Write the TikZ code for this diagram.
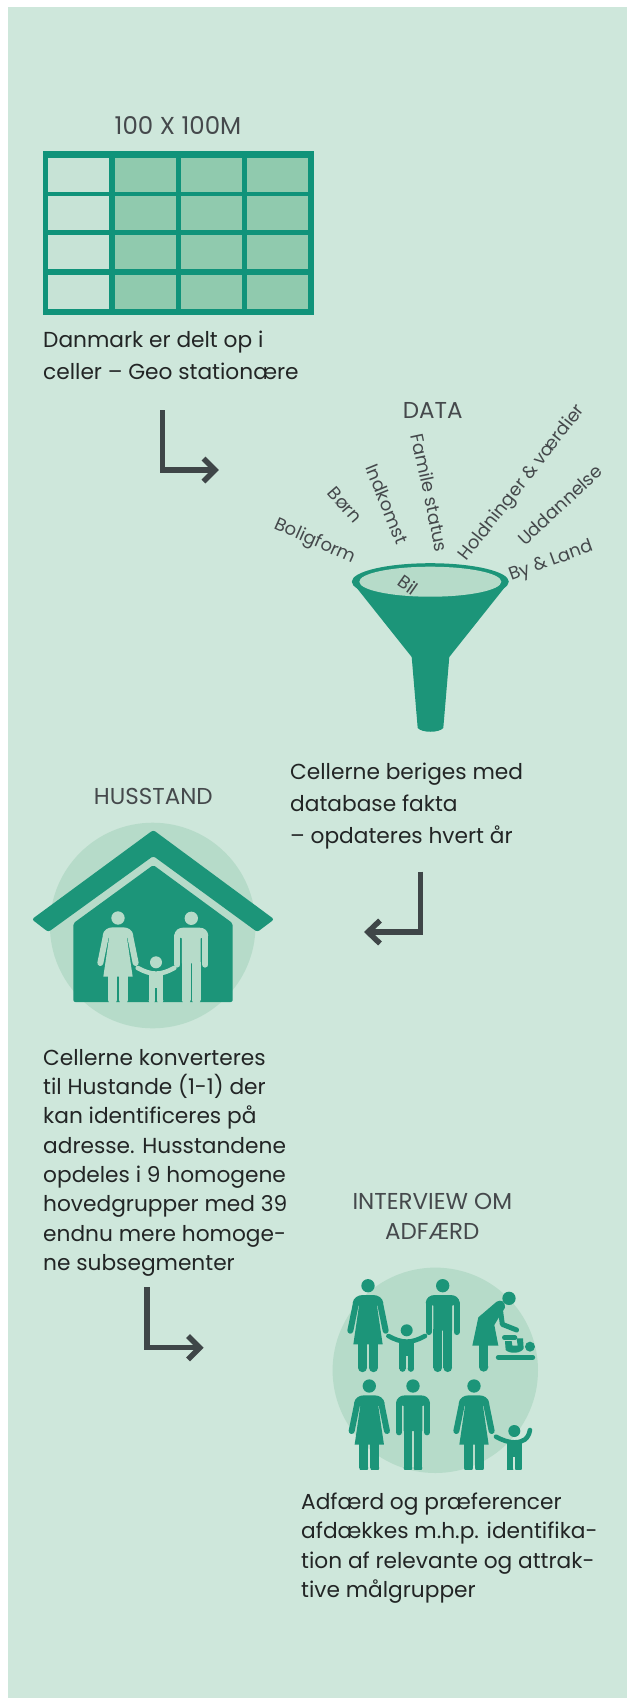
\documentclass[tikz,border=0pt]{standalone}
\usepackage{fontspec}
\setmainfont{Poppins}
\definecolor{bgc}{HTML}{CEE7DB}
\definecolor{gridc}{HTML}{10937A}
\definecolor{celld}{HTML}{90CAAE}
\definecolor{celll}{HTML}{C7E3D6}
\definecolor{fun}{HTML}{1C9579}
\definecolor{disc}{HTML}{B6DBC9}
\definecolor{titlec}{HTML}{45494C}
\definecolor{bodyc}{HTML}{222525}
\definecolor{arrowc}{HTML}{3F4648}
\tikzset{
 ptitle/.style={text=titlec,font=\fontsize{23}{30}\selectfont,align=center,inner sep=0pt},
 pbody/.style={text=bodyc,align=left,inner sep=0pt,anchor=north west},
 plabel/.style={text=titlec,font=\fontsize{18}{20}\selectfont,inner sep=0pt},
 parrow/.style={draw=arrowc,line width=5.5pt},
}
\newcommand{\fwoman}[3]{%x,y,colour
 \begin{scope}[shift={(#1,#2)},x=0.3333pt,y=-0.3333pt]
  \fill[#3] (0,0) circle (20);
  \fill[#3] (-44,176) -- (-27,60) -- (-46,52) .. controls (-44,36) and (-30,28) .. (-16,28) -- (16,28) .. controls (30,28) and (44,36) .. (46,52) -- (27,60) -- (44,176) -- cycle;
  \draw[#3,line width=6pt,line cap=round] (-36,52) -- (-53,135);
  \draw[#3,line width=6pt,line cap=round] (36,52) -- (53,135);
  \fill[#3] (-30,170) rectangle (-3,246); \fill[#3] (3,170) rectangle (30,246);
  \fill[#3] (-16.5,246) circle (13.5); \fill[#3] (16.5,246) circle (13.5);
 \end{scope}}
\newcommand{\fman}[3]{%
 \begin{scope}[shift={(#1,#2)},x=0.3333pt,y=-0.3333pt]
  \fill[#3] (0,0) circle (20);
  \fill[#3] (-28,135) -- (-28,60) -- (-51,52) .. controls (-50,36) and (-38,28) .. (-24,28) -- (24,28) .. controls (38,28) and (50,36) .. (51,52) -- (28,60) -- (28,135) -- cycle;
  \draw[#3,line width=6pt,line cap=round] (-42,52) -- (-42,139);
  \draw[#3,line width=6pt,line cap=round] (42,52) -- (42,139);
  \fill[#3] (-28,130) rectangle (-2,246); \fill[#3] (2,130) rectangle (28,246);
  \fill[#3] (-15,246) circle (13); \fill[#3] (15,246) circle (13);
 \end{scope}}
\newcommand{\fchildbody}[1]{%
  \fill[#1] (0,0) circle (18);
  \fill[#1] (-22,28) rectangle (22,78);
  \fill[#1] (-22,76) rectangle (-3,115); \fill[#1] (3,76) rectangle (22,115);
  \fill[#1] (-12.5,115) circle (9.5); \fill[#1] (12.5,115) circle (9.5);}
\newcommand{\fchild}[3]{%
 \begin{scope}[shift={(#1,#2)},x=0.3333pt,y=-0.3333pt]
  \fchildbody{#3}
  \draw[#3,line width=4.6pt,line cap=round] (-55,17) .. controls (-35,28) and (-18,34) .. (0,34) .. controls (18,34) and (35,28) .. (55,17);
 \end{scope}}
\newcommand{\fchildup}[3]{%
 \begin{scope}[shift={(#1,#2)},x=0.3333pt,y=-0.3333pt]
  \fchildbody{#3}
  \draw[#3,line width=4.6pt,line cap=round] (-55,17) .. controls (-35,28) and (-18,34) .. (0,34) .. controls (25,34) and (42,25) .. (47,-3);
 \end{scope}}
\begin{document}
\begin{tikzpicture}[x=1pt,y=-1pt]
\useasboundingbox (0,0) rectangle (627,1698);
\fill[white] (0,0) rectangle (627,1698);
\fill[bgc] (8,7) rectangle (627,1698);
% grid
\fill[gridc] (43,151) rectangle (314,315);
\foreach \yy/\yb in {158/192,196/230,235/269,275/309}{
  \fill[celll] (48,\yy) rectangle (109,\yb);
  \foreach \xx/\xb in {115/176,181/242,247/308}{\fill[celld] (\xx,\yy) rectangle (\xb,\yb);}
}
\node[ptitle,font=\fontsize{24.5}{30}\selectfont] (t1) at (178,125.5) {100 X 100M};
\node[pbody,font=\fontsize{21.7}{32.6}\selectfont] (b1) at (43,330.5) {Danmark er delt op i\\celler – Geo stationære};
% arrow1
\coordinate (a1s) at (162.7,410);
\coordinate (a1c) at (162.7,470);
\coordinate (a1e) at (215,470);
\coordinate (a1u) at (203.5,458.5);
\coordinate (a1d) at (203.5,481.5);
\draw[parrow] (a1s) -- (a1c) -- (a1e);
\draw[parrow] (a1u) -- (a1e) -- (a1d);
% funnel
\node[ptitle] (t2) at (432.7,410) {DATA};
\fill[fun] (356,587) -- (411.7,657) -- (417.7,728) .. controls (422,733) and (439,733) .. (443.3,728) -- (449.3,657) -- (505,587) -- cycle;
\fill[fun] (430.3,581.7) ellipse [x radius=78.5,y radius=18.5];
\fill[disc] (430.3,581.7) ellipse [x radius=71,y radius=15];
\node[plabel,rotate=-24] (l1) at (315,541.7) {Boligform};
\node[plabel,rotate=-49] (l2) at (345,505) {Børn};
\node[plabel,rotate=-68] (l3) at (387,504) {Indkomst};
\node[plabel,rotate=-78] (l4) at (430,492.7) {Famile status};
\node[plabel,rotate=52] (l5) at (522.5,483.3) {Holdninger \& værdier};
\node[plabel,rotate=43] (l6) at (560,505) {Uddannelse};
\node[plabel,rotate=20] (l7) at (551,561.7) {By \& Land};
\node[plabel,rotate=-35] (l8) at (408.3,585) {Bil};
\node[pbody,font=\fontsize{21.7}{32}\selectfont] (b2) at (290,762.5) {Cellerne beriges med\\database fakta\\– opdateres hvert år};
% arrow2
\coordinate (a2s) at (420.3,871.7);
\coordinate (a2c) at (420.3,932);
\coordinate (a2e) at (368,932);
\coordinate (a2u) at (380,920.5);
\coordinate (a2d) at (380,943.5);
\draw[parrow] (a2s) -- (a2c) -- (a2e);
\draw[parrow] (a2u) -- (a2e) -- (a2d);
% house
\node[ptitle] (t3) at (153.3,796) {HUSSTAND};
\fill[disc] (152.7,925.5) circle (102.8);
\fill[fun,rounded corners=2.5pt] (153.3,830) -- (274.2,919.3) -- (257.3,932) -- (153.3,856) -- (48.3,932) -- (31.8,919.3) -- cycle;
\fill[fun,rounded corners=2pt] (153.3,865) -- (232.7,923.3) -- (232.7,1002) -- (73.3,1002) -- (73.3,923.3) -- cycle;
\begin{scope}
\clip (0,0) rectangle (627,1002);
\fwoman{118}{918}{disc}
\fman{191.3}{918.3}{disc}
\fchild{156}{962.3}{disc}
\end{scope}
\node[pbody,font=\fontsize{21.7}{29.3}\selectfont] (b3) at (43,1049) {Cellerne konverteres\\til Hustande (1-1) der\\kan identificeres på\\adresse. Husstandene\\opdeles i 9 homogene\\hovedgrupper med 39\\endnu mere homoge-\\ne subsegmenter};
% arrow3
\coordinate (a3s) at (147,1287.3);
\coordinate (a3c) at (147,1347.7);
\coordinate (a3e) at (199.7,1347.7);
\coordinate (a3u) at (188,1336);
\coordinate (a3d) at (188,1359.4);
\draw[parrow] (a3s) -- (a3c) -- (a3e);
\draw[parrow] (a3u) -- (a3e) -- (a3d);
% interview
\node[ptitle] (t4) at (432.3,1216.7) {INTERVIEW OM\\ADFÆRD};
\fill[disc] (435.3,1370.3) circle (102.7);
\fwoman{368}{1285.7}{fun}
\fman{442.7}{1285.7}{fun}
\fchild{406.7}{1330.3}{fun}
\begin{scope}[shift={(465,1285)},x=0.3333pt,y=-0.3333pt]
 \fill[fun] (132,40) circle (20);
 \fill[fun] (22,182) -- (40,97) -- (95,50) .. controls (108,42) and (122,50) .. (120,68) -- (100,100) -- (88,120) -- (100,182) -- cycle;
 \draw[fun,line width=5pt,line cap=round,line join=round] (105,65) -- (112,118) -- (155,135);
 \fill[fun] (42,178) rectangle (70,246);
 \fill[fun] (56,246) circle (14);
 \draw[fun,line width=5pt,line cap=round] (100,217) -- (203,217);
 \fill[fun] (195,185) circle (15);
 \draw[fun,line width=4.6pt,line cap=round] (118,158) -- (150,158);
 \fill[fun] (120,168) -- (140,168) -- (142,182) -- (158,182) -- (155,160) -- (174,160) -- (176,190) .. controls (170,205) and (135,208) .. (122,195) -- cycle;
\end{scope}
\begin{scope}
\clip (0,0) rectangle (627,1469);
\fwoman{369.3}{1386}{fun}
\fman{413}{1386}{fun}
\fwoman{474}{1386}{fun}
\fchildup{514.3}{1431}{fun}
\end{scope}
\node[pbody,font=\fontsize{21.7}{29.2}\selectfont] (b4) at (301,1493) {Adfærd og præferencer\\afdækkes m.h.p. identifika-\\tion af relevante og attrak-\\tive målgrupper};
\end{tikzpicture}
\end{document}
